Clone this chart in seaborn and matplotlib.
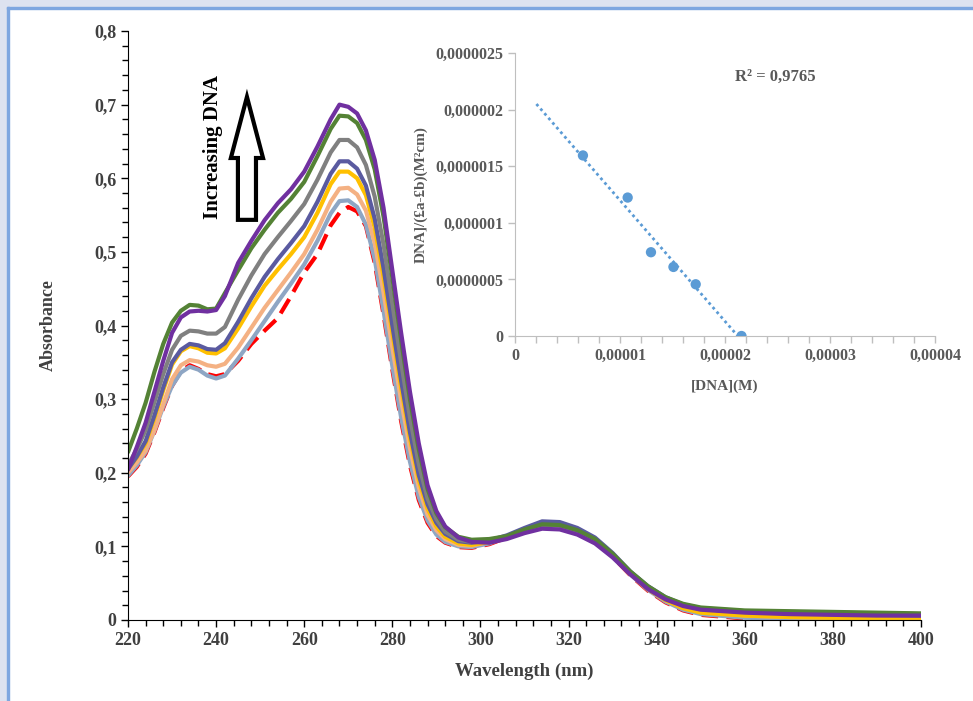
import numpy as np
import pandas as pd
import matplotlib
matplotlib.use('Agg')
import matplotlib.pyplot as plt
import seaborn as sns
from matplotlib.patches import Rectangle
from matplotlib.ticker import MultipleLocator

# wavelength grid (nm)
wl = [220, 222, 224, 226, 228, 230, 232, 234, 236, 238, 240, 242,
      245, 248, 251, 254, 257, 260, 263, 266,
      268, 270, 272, 274, 276, 278, 280, 282, 284, 286, 288, 290, 292,
      295, 298,
      302, 306, 310, 314, 318, 322, 326, 330, 334, 338, 342, 346, 350,
      360, 370, 380, 390, 400]

# absorbance of each spectrum (free compound first, then increasing DNA)
abs_free = [0.195, 0.208, 0.226, 0.255, 0.288, 0.318, 0.338, 0.346, 0.341, 0.334, 0.331, 0.334,
            0.352, 0.375, 0.393, 0.41, 0.44, 0.472, 0.497, 0.536,
            0.553, 0.561, 0.555, 0.535, 0.485, 0.415, 0.34, 0.27, 0.21, 0.163, 0.132, 0.114, 0.105,
            0.099, 0.098,
            0.103, 0.112, 0.122, 0.129, 0.129, 0.121, 0.107, 0.086, 0.061, 0.04, 0.024, 0.013, 0.007,
            0.002, 0.001, 0.0, 0.0, 0.0]
abs_dna1 = [0.196, 0.21, 0.228, 0.257, 0.29, 0.318, 0.336, 0.344, 0.34, 0.332, 0.328, 0.332,
            0.355, 0.38, 0.406, 0.432, 0.457, 0.483, 0.515, 0.552,
            0.569, 0.57, 0.561, 0.537, 0.49, 0.42, 0.345, 0.275, 0.215, 0.167, 0.135, 0.116, 0.106,
            0.1, 0.099,
            0.104, 0.113, 0.123, 0.13, 0.13, 0.122, 0.108, 0.087, 0.062, 0.041, 0.025, 0.014, 0.008,
            0.003, 0.002, 0.001, 0.001, 0.001]
abs_dna2 = [0.2, 0.214, 0.23, 0.258, 0.293, 0.327, 0.346, 0.353, 0.351, 0.346, 0.344, 0.348,
            0.37, 0.397, 0.424, 0.448, 0.472, 0.497, 0.53, 0.568,
            0.586, 0.587, 0.578, 0.556, 0.512, 0.445, 0.37, 0.298, 0.233, 0.18, 0.143, 0.122, 0.11,
            0.102, 0.101,
            0.106, 0.114, 0.123, 0.13, 0.13, 0.122, 0.109, 0.088, 0.063, 0.042, 0.027, 0.017, 0.011,
            0.006, 0.004, 0.003, 0.002, 0.002]
abs_dna3 = [0.205, 0.221, 0.24, 0.274, 0.312, 0.347, 0.365, 0.372, 0.369, 0.363, 0.362, 0.369,
            0.396, 0.426, 0.454, 0.476, 0.497, 0.52, 0.553, 0.592,
            0.609, 0.609, 0.6, 0.577, 0.533, 0.466, 0.39, 0.315, 0.247, 0.19, 0.151, 0.127, 0.113,
            0.104, 0.102,
            0.106, 0.113, 0.122, 0.13, 0.13, 0.122, 0.109, 0.088, 0.063, 0.042, 0.027, 0.016, 0.01,
            0.006, 0.004, 0.003, 0.003, 0.003]
abs_dna4 = [0.205, 0.222, 0.243, 0.278, 0.316, 0.35, 0.367, 0.375, 0.373, 0.368, 0.367, 0.376,
            0.405, 0.437, 0.466, 0.49, 0.512, 0.535, 0.568, 0.606,
            0.623, 0.623, 0.613, 0.59, 0.545, 0.478, 0.4, 0.325, 0.255, 0.197, 0.157, 0.132, 0.117,
            0.107, 0.105,
            0.108, 0.115, 0.125, 0.134, 0.133, 0.125, 0.112, 0.091, 0.066, 0.046, 0.031, 0.021, 0.015,
            0.011, 0.009, 0.008, 0.007, 0.006]
abs_dna5 = [0.21, 0.232, 0.258, 0.296, 0.334, 0.367, 0.386, 0.393, 0.392, 0.389, 0.389, 0.398,
            0.435, 0.468, 0.497, 0.52, 0.542, 0.565, 0.598, 0.635,
            0.652, 0.652, 0.642, 0.618, 0.575, 0.51, 0.43, 0.35, 0.275, 0.212, 0.165, 0.137, 0.12,
            0.109, 0.106,
            0.108, 0.113, 0.122, 0.129, 0.128, 0.121, 0.109, 0.089, 0.065, 0.045, 0.03, 0.021, 0.016,
            0.012, 0.011, 0.01, 0.009, 0.008]
abs_dna6 = [0.228, 0.26, 0.295, 0.337, 0.375, 0.404, 0.42, 0.428, 0.427, 0.422, 0.423, 0.444,
            0.475, 0.505, 0.53, 0.553, 0.572, 0.595, 0.63, 0.667,
            0.685, 0.684, 0.675, 0.652, 0.612, 0.548, 0.465, 0.38, 0.3, 0.232, 0.178, 0.145, 0.126,
            0.113, 0.109,
            0.11, 0.114, 0.123, 0.13, 0.129, 0.122, 0.11, 0.09, 0.066, 0.046, 0.031, 0.022, 0.017,
            0.013, 0.012, 0.011, 0.01, 0.009]
abs_dna7 = [0.204, 0.235, 0.268, 0.31, 0.352, 0.39, 0.411, 0.419, 0.42, 0.419, 0.421, 0.44,
            0.485, 0.515, 0.543, 0.566, 0.585, 0.609, 0.643, 0.68,
            0.7, 0.697, 0.688, 0.665, 0.625, 0.56, 0.475, 0.39, 0.31, 0.24, 0.183, 0.148, 0.127,
            0.112, 0.106,
            0.105, 0.11, 0.118, 0.124, 0.123, 0.116, 0.104, 0.085, 0.062, 0.042, 0.028, 0.019, 0.014,
            0.01, 0.008, 0.007, 0.006, 0.006]

series_names = ['free', 'dna1', 'dna2', 'dna3', 'dna4', 'dna5', 'dna6', 'dna7']
series_vals = [abs_free, abs_dna1, abs_dna2, abs_dna3, abs_dna4, abs_dna5, abs_dna6, abs_dna7]
series_colors = ['#ff0000', '#8ea6c4', '#f4b183', '#ffc000', '#5a5aa0', '#808080', '#548235', '#7030a0']

# inset: binding plot
dna_conc = [6.47e-6, 1.073e-5, 1.295e-5, 1.509e-5, 1.721e-5, 2.157e-5]
dna_ratio = [1.595e-6, 1.223e-6, 7.40e-7, 6.10e-7, 4.57e-7, 0.0]
trend_from = 2.04e-6
r2_text = 'R² = 0,9765'

main_xticks = [220, 240, 260, 280, 300, 320, 340, 360, 380, 400]
main_yticks = [0, 0.1, 0.2, 0.3, 0.4, 0.5, 0.6, 0.7, 0.8]
main_ylabels = ['0', '0,1', '0,2', '0,3', '0,4', '0,5', '0,6', '0,7', '0,8']
ins_xticks = [0, 1e-5, 2e-5, 3e-5, 4e-5]
ins_xlabels = ['0', '0,00001', '0,00002', '0,00003', '0,00004']
ins_yticks = [0, 5e-7, 1e-6, 1.5e-6, 2e-6, 2.5e-6]
ins_ylabels = ['0', '0,0000005', '0,000001', '0,0000015', '0,000002', '0,0000025']

# long table for seaborn
frames = []
for name, vals in zip(series_names, series_vals):
    frames.append(pd.DataFrame({'wl': wl, 'A': vals, 'series': name}))
df = pd.concat(frames, ignore_index=True)

sns.set_style('ticks')
plt.rcParams['font.family'] = ['Liberation Serif', 'DejaVu Serif']
plt.rcParams['font.weight'] = 'bold'

fig = plt.figure(figsize=(9.73, 7.01), dpi=100)
W, H = 973.0, 701.0

# window-like border at top and left
fig.patches.append(Rectangle((0, 1 - 7 / H), 1, 7 / H, transform=fig.transFigure, color='#dde2f0', zorder=0))
fig.patches.append(Rectangle((0, 0), 7 / W, 1, transform=fig.transFigure, color='#dde2f0', zorder=0))
fig.patches.append(Rectangle((7 / W, 0), 2 / W, 1 - 7 / H, transform=fig.transFigure, color='#7ea6e0', zorder=1))
fig.patches.append(Rectangle((7 / W, 1 - 9 / H), 1 - 7 / W, 2 / H, transform=fig.transFigure, color='#7ea6e0', zorder=1))

ax = fig.add_axes([128 / W, 1 - 620 / H, 793 / W, 589 / H])
ax.patch.set_alpha(0)
dash_map = {n: '' for n in series_names}
dash_map['free'] = (4, 2)
sns.lineplot(data=df, x='wl', y='A', hue='series', style='series',
             hue_order=series_names, style_order=series_names,
             palette=dict(zip(series_names, series_colors)), dashes=dash_map,
             lw=3, legend=False, ax=ax, sort=False)
for ln in ax.get_lines():
    ln.set_solid_joinstyle('round')
    ln.set_dash_joinstyle('round')

ax.set_xlim(220, 400)
ax.set_ylim(0, 0.8)
ax.set_xticks(main_xticks)
ax.set_xticklabels([str(t) for t in main_xticks])
ax.set_yticks(main_yticks)
ax.set_yticklabels(main_ylabels)
ax.xaxis.set_minor_locator(MultipleLocator(4))
ax.yaxis.set_minor_locator(MultipleLocator(0.02))
ax.tick_params(which='major', length=5, width=1, color='black', direction='out',
               labelsize=13, labelcolor='#404040')
ax.tick_params(which='minor', length=4, width=1, color='black', direction='out')
for lab in ax.get_xticklabels() + ax.get_yticklabels():
    lab.set_fontweight('bold')
sns.despine(ax=ax)
ax.spines['left'].set_color('black')
ax.spines['bottom'].set_color('black')
ax.set_xlabel('Wavelength (nm)', fontsize=13.5, fontweight='bold', color='#404040', labelpad=10)
ax.set_ylabel('Absorbance', fontsize=13, fontweight='bold', color='#404040', labelpad=27)

# hollow arrow and label
ax.arrow(247, 0.5435, 0, 0.167, width=4.1, head_width=7.3, head_length=0.083,
         length_includes_head=True, fc='white', ec='black', lw=3, zorder=5)
ax.text(239.4, 0.643, 'Increasing DNA', rotation=90, ha='center', va='center',
        fontsize=15, fontweight='bold', color='black')

# inset
ins = fig.add_axes([515 / W, 1 - 336 / H, 420 / W, 283 / H])
ins.patch.set_alpha(0)
slope, icpt = np.polyfit(dna_conc, dna_ratio, 1)
fx = np.array([trend_from, dna_conc[-1]])
ins.plot(fx, slope * fx + icpt, ls=(0, (1, 1.2)), color='#5b9bd5', lw=2)
sns.scatterplot(x=dna_conc, y=dna_ratio, color='#5b9bd5', s=55, edgecolor='none', ax=ins, zorder=3)
ins.set_xlim(0, 4e-5)
ins.set_ylim(0, 2.5e-6)
ins.set_xticks(ins_xticks)
ins.set_xticklabels(ins_xlabels)
ins.set_yticks(ins_yticks)
ins.set_yticklabels(ins_ylabels)
ins.xaxis.set_minor_locator(MultipleLocator(2e-6))
ins.tick_params(which='both', length=5, width=1, color='#bfbfbf', direction='out',
                labelsize=11.5, labelcolor='#595959')
for lab in ins.get_xticklabels() + ins.get_yticklabels():
    lab.set_fontweight('bold')
sns.despine(ax=ins)
ins.spines['left'].set_color('#bfbfbf')
ins.spines['bottom'].set_color('#bfbfbf')
ins.set_xlabel('[DNA](M)', fontsize=11, fontweight='bold', color='#595959', labelpad=11)
ins.set_ylabel('DNA]/(£a-£b)(M²cm)', fontsize=11, fontweight='bold', color='#595959', labelpad=5)
ins.text(0.62, 0.915, r2_text, transform=ins.transAxes, ha='center', va='center',
         fontsize=12, fontweight='bold', color='#595959')

fig.savefig('out.png', dpi=100)
